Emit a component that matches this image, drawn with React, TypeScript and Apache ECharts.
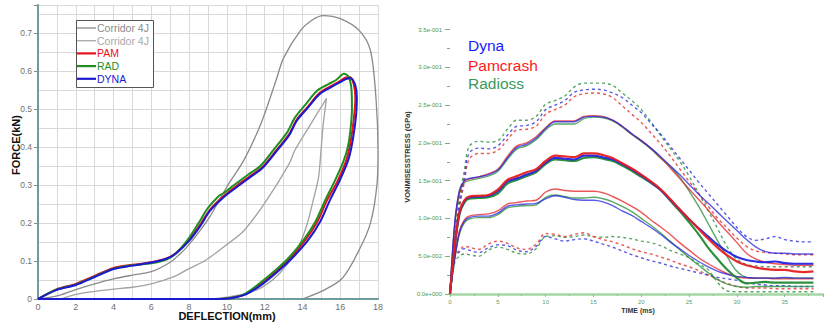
import React, { useEffect, useRef } from "react";
import * as echarts from "echarts";

const FONT = "'Liberation Sans', Arial, sans-serif";

// ---------------- Left panel: force vs deflection ----------------
const corridorOuterX = [0, 1, 2, 3, 4, 5, 6, 7, 7.5, 7.9, 8.5, 9.1, 10.0, 10.9, 11.8, 12.6, 13.0, 13.9, 14.5, 15.1, 16.0, 17.0, 17.6, 17.9, 18.0, 17.95, 17.6, 17.0, 16.1, 15.0, 14.0];
const corridorOuterY = [0, 0.008, 0.025, 0.04, 0.053, 0.063, 0.072, 0.097, 0.118, 0.138, 0.175, 0.217, 0.296, 0.366, 0.462, 0.576, 0.635, 0.708, 0.735, 0.747, 0.739, 0.708, 0.655, 0.524, 0.392, 0.304, 0.2, 0.129, 0.054, 0.02, 0];
const corridorInnerX = [1.2, 2, 3, 4, 5, 6, 7.2, 8.0, 8.9, 9.9, 10.9, 12.1, 13.3, 13.6, 14.3, 15.27, 15.1, 14.98, 14.85, 14.57, 14.2, 13.7, 12.8, 11.9, 11.0, 10.16, 9.3];
const corridorInnerY = [0, 0.012, 0.02, 0.026, 0.031, 0.04, 0.059, 0.08, 0.103, 0.14, 0.18, 0.26, 0.357, 0.392, 0.45, 0.528, 0.46, 0.39, 0.32, 0.26, 0.19, 0.129, 0.068, 0.032, 0.014, 0.006, 0];
const pamX = [0, 1, 2, 3, 4, 5, 6, 6.8, 7.3, 8.0, 8.6, 9.1, 9.8, 10.5, 11.2, 11.9, 12.6, 13.3, 13.7, 14.3, 14.9, 15.5, 15.9, 16.3, 16.5, 16.72, 16.8, 16.75, 16.6, 16.35, 15.85, 15.3, 14.8, 14.15, 13.4, 12.7, 11.8, 10.95, 10.15, 9.45];
const pamY = [0, 0.026, 0.04, 0.061, 0.082, 0.09, 0.097, 0.107, 0.121, 0.156, 0.197, 0.235, 0.27, 0.298, 0.323, 0.349, 0.391, 0.435, 0.473, 0.508, 0.543, 0.561, 0.572, 0.584, 0.585, 0.565, 0.53, 0.49, 0.43, 0.37, 0.31, 0.26, 0.205, 0.155, 0.11, 0.077, 0.04, 0.012, 0.002, 0];
const radX = [0, 1, 2, 3, 4, 5, 6, 6.8, 7.3, 7.95, 8.5, 9.0, 9.6, 9.8, 10.4, 11.1, 11.8, 12.5, 13.2, 13.6, 14.2, 14.8, 15.4, 15.8, 16.2, 16.45, 16.6, 16.62, 16.55, 16.4, 16.15, 15.7, 15.2, 14.7, 14.05, 13.3, 12.6, 11.7, 10.9, 10.1, 9.4];
const radY = [0, 0.025, 0.038, 0.059, 0.08, 0.089, 0.094, 0.104, 0.12, 0.158, 0.2, 0.24, 0.273, 0.278, 0.301, 0.327, 0.352, 0.395, 0.44, 0.478, 0.515, 0.55, 0.567, 0.578, 0.594, 0.585, 0.55, 0.5, 0.45, 0.4, 0.36, 0.31, 0.26, 0.205, 0.155, 0.11, 0.077, 0.04, 0.012, 0.002, 0];
const dynaX = [0, 1, 2, 3, 4, 5, 6, 6.8, 7.3, 8.0, 8.6, 9.1, 9.8, 10.5, 11.2, 11.9, 12.6, 13.3, 13.7, 14.3, 14.9, 15.5, 15.9, 16.3, 16.55, 16.8, 16.88, 16.85, 16.7, 16.45, 15.95, 15.45, 14.95, 14.3, 13.5, 12.8, 11.9, 11.0, 10.2, 9.5, 6, 3, 0];
const dynaY = [0, 0.024, 0.037, 0.058, 0.079, 0.088, 0.096, 0.106, 0.12, 0.153, 0.193, 0.232, 0.267, 0.294, 0.32, 0.346, 0.388, 0.432, 0.47, 0.505, 0.54, 0.558, 0.569, 0.58, 0.582, 0.563, 0.53, 0.49, 0.43, 0.37, 0.31, 0.26, 0.205, 0.155, 0.11, 0.077, 0.04, 0.012, 0.002, 0, 0, 0, 0];
const leftLegend = ["Corridor 4J", "Corridor 4J", "PAM", "RAD", "DYNA"];

// ---------------- Right panel: Von Mises stress vs time (values x 1e-2 GPa) ----------------
const time = [0, 0.5, 1, 1.5, 2, 3, 4, 5, 6, 7, 8, 9, 10, 11, 12, 13, 14, 15, 16, 17, 18, 19, 20, 21, 22, 23, 24, 25, 26, 27, 28, 29, 30, 31, 32, 33, 34, 35, 36, 37, 38];
const dynaUp2 = [0, 7.0, 12.0, 15.5, 18.6, 19.3, 19.2, 19.6, 21.0, 22.2, 22.3, 22.8, 24.4, 25.0, 25.6, 26.7, 27.0, 27.1, 27.0, 26.6, 26.0, 25.0, 24.0, 22.6, 21.2, 19.6, 18.0, 16.4, 14.8, 13.3, 11.8, 10.3, 8.8, 7.6, 7.1, 7.3, 7.6, 7.2, 7.0, 6.9, 6.9];
const pamUp2 = [0, 6.5, 11.4, 14.8, 17.8, 18.6, 18.6, 19.0, 20.4, 21.7, 21.8, 22.2, 23.8, 24.4, 25.0, 26.1, 26.5, 26.6, 26.5, 26.0, 24.9, 23.8, 22.7, 21.3, 19.9, 18.3, 16.6, 14.9, 13.3, 11.6, 10.0, 8.7, 7.4, 6.3, 5.7, 5.5, 5.4, 5.3, 5.2, 5.2, 5.2];
const radUp2 = [0, 7.5, 12.8, 16.3, 19.5, 20.2, 20.1, 20.3, 21.8, 23.0, 23.0, 23.5, 25.1, 25.6, 26.2, 27.4, 27.9, 27.9, 27.9, 27.6, 26.6, 25.6, 24.4, 22.8, 21.0, 19.3, 17.6, 15.6, 13.3, 11.0, 8.6, 6.2, 4.6, 3.9, 3.7, 3.6, 3.6, 3.6, 3.6, 3.6, 3.6];
const dynaUp1 = [0, 9.5, 13.8, 15.0, 15.3, 15.5, 15.8, 16.4, 18.0, 19.4, 19.8, 20.6, 21.9, 22.8, 22.8, 22.8, 23.4, 23.5, 23.4, 23.0, 22.2, 21.2, 20.3, 19.3, 18.2, 17.0, 15.8, 14.5, 13.2, 12.0, 10.8, 9.6, 8.4, 7.2, 6.2, 5.6, 5.4, 5.4, 5.3, 5.3, 5.3];
const pamUp1 = [0, 9.3, 13.6, 14.9, 15.2, 15.5, 15.9, 16.5, 18.2, 19.6, 20.0, 20.8, 22.0, 22.9, 22.9, 22.9, 23.5, 23.6, 23.5, 23.0, 22.2, 21.2, 20.3, 19.3, 18.1, 16.7, 15.3, 13.9, 12.5, 11.1, 9.6, 8.2, 6.8, 5.4, 4.6, 4.2, 4.0, 3.9, 3.8, 3.8, 3.8];
const radUp1 = [0, 9.0, 13.4, 14.7, 15.0, 15.3, 15.6, 16.2, 17.8, 19.2, 19.6, 20.4, 21.7, 22.5, 22.5, 22.5, 23.2, 23.4, 23.3, 22.9, 22.1, 21.1, 20.2, 19.2, 18.0, 16.9, 15.5, 13.6, 11.6, 9.3, 7.0, 4.9, 3.0, 2.2, 2.1, 2.1, 2.1, 2.1, 2.1, 2.1, 2.1];
const dynaMean = [0, 6.5, 10.8, 12.3, 12.8, 12.9, 13.0, 13.6, 14.9, 15.3, 15.8, 16.3, 17.4, 18.0, 17.9, 17.8, 18.3, 18.3, 18.1, 17.8, 17.2, 16.5, 15.7, 14.8, 13.8, 12.5, 11.2, 9.9, 8.7, 7.6, 6.5, 5.6, 4.9, 4.5, 4.3, 4.2, 4.3, 4.1, 4.0, 4.0, 4.0];
const pamMean = [0, 6.6, 10.9, 12.4, 12.9, 13.0, 13.1, 13.8, 15.1, 15.6, 16.1, 16.5, 17.6, 18.3, 18.2, 18.1, 18.6, 18.6, 18.4, 18.0, 17.3, 16.6, 15.8, 14.9, 13.9, 12.6, 11.2, 9.9, 8.6, 7.3, 6.1, 5.1, 4.3, 3.8, 3.5, 3.3, 3.2, 3.2, 3.0, 2.9, 3.0];
const radMean = [0, 6.3, 10.6, 12.1, 12.6, 12.7, 12.8, 13.3, 14.6, 15.1, 15.6, 16.1, 17.2, 17.8, 17.7, 17.6, 18.0, 18.1, 17.9, 17.6, 17.0, 16.3, 15.5, 14.7, 13.8, 12.4, 11.0, 9.5, 7.9, 6.1, 4.6, 3.2, 2.1, 1.4, 1.5, 1.6, 1.5, 1.5, 1.5, 1.5, 1.5];
const dynaLow1 = [0, 4.8, 8.2, 9.6, 10.1, 10.3, 10.3, 10.7, 11.6, 11.8, 11.9, 12.0, 12.6, 13.0, 12.8, 12.5, 12.4, 12.4, 12.2, 11.7, 11.0, 10.4, 9.6, 8.8, 7.9, 6.9, 6.0, 5.1, 4.3, 3.6, 3.0, 2.6, 2.3, 2.2, 2.1, 2.1, 2.1, 2.2, 2.1, 2.1, 2.1];
const pamLow1 = [0, 5.0, 8.4, 9.8, 10.3, 10.5, 10.6, 11.0, 11.9, 12.1, 12.3, 12.4, 13.5, 13.9, 13.7, 13.6, 13.6, 13.6, 13.4, 12.9, 12.3, 11.6, 10.8, 9.8, 8.9, 7.9, 6.8, 5.8, 4.8, 4.0, 3.3, 2.7, 2.3, 2.1, 2.1, 2.1, 2.0, 2.0, 2.0, 2.0, 2.0];
const radLow1 = [0, 4.6, 8.0, 9.4, 9.9, 10.1, 10.1, 10.5, 11.4, 11.6, 11.7, 11.8, 12.8, 13.1, 12.9, 12.7, 12.7, 12.8, 12.6, 12.2, 11.6, 10.9, 10.0, 9.1, 8.1, 7.0, 5.9, 4.8, 3.8, 2.8, 1.9, 1.3, 1.0, 0.9, 1.0, 1.0, 1.0, 1.0, 1.0, 1.0, 1.0];
const dynaLow2 = [0, 4.8, 5.6, 6.0, 5.8, 5.5, 6.1, 6.5, 6.4, 5.8, 5.6, 6.3, 7.6, 7.3, 7.0, 7.2, 7.3, 7.0, 6.6, 6.2, 5.7, 5.2, 4.8, 4.4, 4.1, 3.7, 3.4, 3.1, 2.8, 2.5, 2.2, 2.0, 1.8, 1.5, 1.3, 1.2, 1.1, 1.1, 1.0, 1.0, 1.0];
const pamLow2 = [0, 5.0, 5.8, 6.3, 6.2, 5.9, 6.6, 7.0, 6.7, 6.1, 5.9, 6.6, 8.0, 7.9, 7.6, 7.9, 8.1, 7.6, 7.2, 6.9, 6.5, 6.0, 5.6, 5.3, 4.9, 4.5, 4.0, 3.6, 3.1, 2.5, 1.9, 1.4, 1.0, 0.8, 0.8, 0.8, 0.7, 0.7, 0.7, 0.7, 0.7];
const radLow2 = [0, 4.2, 5.0, 5.3, 5.2, 5.0, 5.8, 6.2, 5.9, 5.4, 5.3, 6.0, 7.6, 7.7, 7.5, 7.6, 7.8, 7.6, 7.5, 7.6, 7.5, 7.3, 7.0, 6.8, 6.4, 5.8, 5.3, 4.8, 4.0, 3.2, 1.5, 0.4, 0.3, 0.3, 0.3, 0.3, 0.3, 0.3, 0.3, 0.3, 0.3];
const rightLegend = ["Dyna", "Pamcrash", "Radioss"];

const C_BLUE = "#2424e0";
const C_RED = "#e42020";
const C_GREEN = "#228b32";

function sci(v: number): string {
  if (v === 0) return "0.0e+000";
  const val = v / 100;
  const e = Math.floor(Math.log10(val) + 1e-9);
  const m = val / Math.pow(10, e);
  return m.toFixed(1) + "e" + (e < 0 ? "-" : "+") + String(Math.abs(e)).padStart(3, "0");
}

function pairs(xs: number[], ys: number[]) {
  return xs.map((x, i) => [x, ys[i]]);
}

function lineSeries(name: string, data: number[][], idx: number, color: string, width: number, dashed: boolean, opacity: number, smooth: number, z: number) {
  return {
    type: "line",
    name,
    xAxisIndex: idx,
    yAxisIndex: idx,
    data,
    showSymbol: false,
    symbol: "none",
    smooth,
    clip: true,
    silent: true,
    z,
    lineStyle: { color, width, opacity, type: dashed ? [3, 3] : "solid" },
  };
}

export default function App() {
  const ref = useRef<HTMLDivElement>(null);

  useEffect(() => {
    if (!ref.current) return;
    const chart = echarts.init(ref.current, undefined, { renderer: "svg" });

    const series: any[] = [
      lineSeries("Corridor 4J", pairs(corridorOuterX, corridorOuterY), 0, "#8a8a8a", 1.3, false, 1, 0.3, 2),
      lineSeries("Corridor 4J b", pairs(corridorInnerX, corridorInnerY), 0, "#a2a2a2", 1.3, false, 1, 0.3, 2),
      lineSeries("PAM", pairs(pamX, pamY), 0, "#e8101a", 2, false, 1, 0.3, 3),
      lineSeries("RAD", pairs(radX, radY), 0, "#1f8f1f", 2, false, 1, 0.3, 3),
      lineSeries("DYNA", pairs(dynaX, dynaY), 0, "#1a1ad0", 2, false, 1, 0.3, 3),
    ];

    const groups: [number[], string, number, boolean, number][] = [
      [radUp2, C_GREEN, 1.4, true, 0.75],
      [pamUp2, C_RED, 1.4, true, 0.75],
      [dynaUp2, C_BLUE, 1.4, true, 0.75],
      [radLow2, C_GREEN, 1.4, true, 0.75],
      [pamLow2, C_RED, 1.4, true, 0.75],
      [dynaLow2, C_BLUE, 1.4, true, 0.75],
      [radUp1, C_GREEN, 1.4, false, 0.75],
      [pamUp1, C_RED, 1.4, false, 0.75],
      [dynaUp1, C_BLUE, 1.4, false, 0.75],
      [radLow1, C_GREEN, 1.4, false, 0.75],
      [pamLow1, C_RED, 1.4, false, 0.75],
      [dynaLow1, C_BLUE, 1.4, false, 0.75],
      [radMean, C_GREEN, 2.2, false, 0.95],
      [dynaMean, C_BLUE, 2.2, false, 0.95],
      [pamMean, C_RED, 2.2, false, 0.95],
    ];
    groups.forEach(([vals, color, w, dashed, op], i) => {
      series.push(lineSeries("r" + i, pairs(time, vals), 1, color, w, dashed, op, 0.35, 3));
    });

    const legendColors = ["#8a8a8a", "#a8a8a8", "#e8101a", "#1f8f1f", "#1a1ad0"];
    const legendGraphics: any[] = [
      {
        type: "rect",
        shape: { x: 76.5, y: 20.5, width: 77, height: 67 },
        style: { fill: "#ffffff", stroke: "#555555", lineWidth: 1 },
        z: 20,
      },
    ];
    leftLegend.forEach((label, i) => {
      const y = 28 + i * 12.7;
      legendGraphics.push({
        type: "line",
        shape: { x1: 77, y1: y, x2: 96, y2: y },
        style: { stroke: legendColors[i], lineWidth: i < 2 ? 1.3 : 2.2 },
        z: 21,
      });
      legendGraphics.push({
        type: "text",
        x: 97,
        y,
        style: { text: label, font: `10.5px ${FONT}`, fill: legendColors[i], textAlign: "left", textVerticalAlign: "middle" },
        z: 21,
      });
    });

    const rightLegendColors = ["#1a1aff", "#ff1a1a", "#3a9a5a"];
    rightLegend.forEach((label, i) => {
      legendGraphics.push({
        type: "text",
        x: 468,
        y: [45, 65, 83][i],
        style: { text: label, font: `15.5px ${FONT}`, fill: rightLegendColors[i], textAlign: "left", textVerticalAlign: "middle" },
        z: 21,
      });
    });

    const titles: any[] = [
      {
        type: "text",
        x: 15.5,
        y: 145,
        rotation: Math.PI / 2,
        style: { text: "FORCE(kN)", font: `bold 11px ${FONT}`, fill: "#111", textAlign: "center", textVerticalAlign: "middle" },
      },
      {
        type: "text",
        x: 227,
        y: 316,
        style: { text: "DEFLECTION(mm)", font: `bold 11px ${FONT}`, fill: "#111", textAlign: "center", textVerticalAlign: "middle" },
      },
      {
        type: "text",
        x: 407,
        y: 157,
        rotation: Math.PI / 2,
        style: { text: "VONMISESSTRESS (GPa)", font: `bold 7.5px ${FONT}`, fill: "#333", textAlign: "center", textVerticalAlign: "middle" },
      },
      {
        type: "text",
        x: 638,
        y: 310,
        style: { text: "TIME (ms)", font: `bold 7px ${FONT}`, fill: "#333", textAlign: "center", textVerticalAlign: "middle" },
      },
    ];

    const option: any = {
      animation: false,
      backgroundColor: "#ffffff",
      textStyle: { fontFamily: FONT },
      grid: [
        { left: 38, top: 5, width: 340, height: 294 },
        { left: 450, top: 29.5, width: 375.5, height: 264.5 },
      ],
      xAxis: [
        {
          type: "value",
          gridIndex: 0,
          min: 0,
          max: 18,
          interval: 2,
          axisLine: { show: true, onZero: false, lineStyle: { color: "#6f9c9c", width: 2 } },
          axisTick: { show: false },
          axisLabel: { color: "#707070", fontSize: 9, margin: 3 },
          splitLine: { show: true, lineStyle: { color: "#d9d9d9", width: 1 } },
          minorTick: { show: false, splitNumber: 2 },
          minorSplitLine: { show: true, lineStyle: { color: "#d9d9d9", width: 1 } },
        },
        {
          type: "value",
          gridIndex: 1,
          min: 0,
          max: 39,
          interval: 5,
          axisLine: { show: true, onZero: false, lineStyle: { color: "#a6d6a6", width: 2.5 } },
          axisTick: { show: true, length: 3, lineStyle: { color: "#8cc08c" } },
          minorTick: { show: true, splitNumber: 2, length: 2, lineStyle: { color: "#8cc08c" } },
          axisLabel: { color: "#6a9a6a", fontSize: 6, margin: 5, formatter: (v: number) => (v > 36 ? "" : String(v)) },
          splitLine: { show: false },
        },
      ],
      yAxis: [
        {
          type: "value",
          gridIndex: 0,
          min: 0,
          max: 0.775,
          interval: 0.1,
          axisLine: { show: true, onZero: false, lineStyle: { color: "#6f9c9c", width: 2 } },
          axisTick: { show: true, length: 4, lineStyle: { color: "#8a8a8a" } },
          axisLabel: {
            color: "#707070",
            fontSize: 8.5,
            margin: 6,
            formatter: (v: number) => (v > 0.76 ? "" : v === 0 ? "0" : v.toFixed(1)),
          },
          splitLine: { show: true, lineStyle: { color: "#d9d9d9", width: 1 } },
          minorTick: { show: false, splitNumber: 2 },
          minorSplitLine: { show: true, lineStyle: { color: "#d9d9d9", width: 1 } },
        },
        {
          type: "value",
          gridIndex: 1,
          min: 0,
          max: 35,
          interval: 5,
          axisLine: { show: false },
          axisTick: { show: true, length: 5, lineStyle: { color: "#78b478" } },
          minorTick: { show: true, splitNumber: 2, length: 3, lineStyle: { color: "#78b478" } },
          axisLabel: { color: "#4a9a4a", fontSize: 6, margin: 8, formatter: sci },
          splitLine: { show: false },
        },
      ],
      series,
      graphic: [...legendGraphics, ...titles],
    };

    chart.setOption(option);
    return () => {
      chart.dispose();
    };
  }, []);

  return <div ref={ref} style={{ position: "fixed", left: 0, top: 0, width: 826, height: 326, background: "#fff" }} />;
}
